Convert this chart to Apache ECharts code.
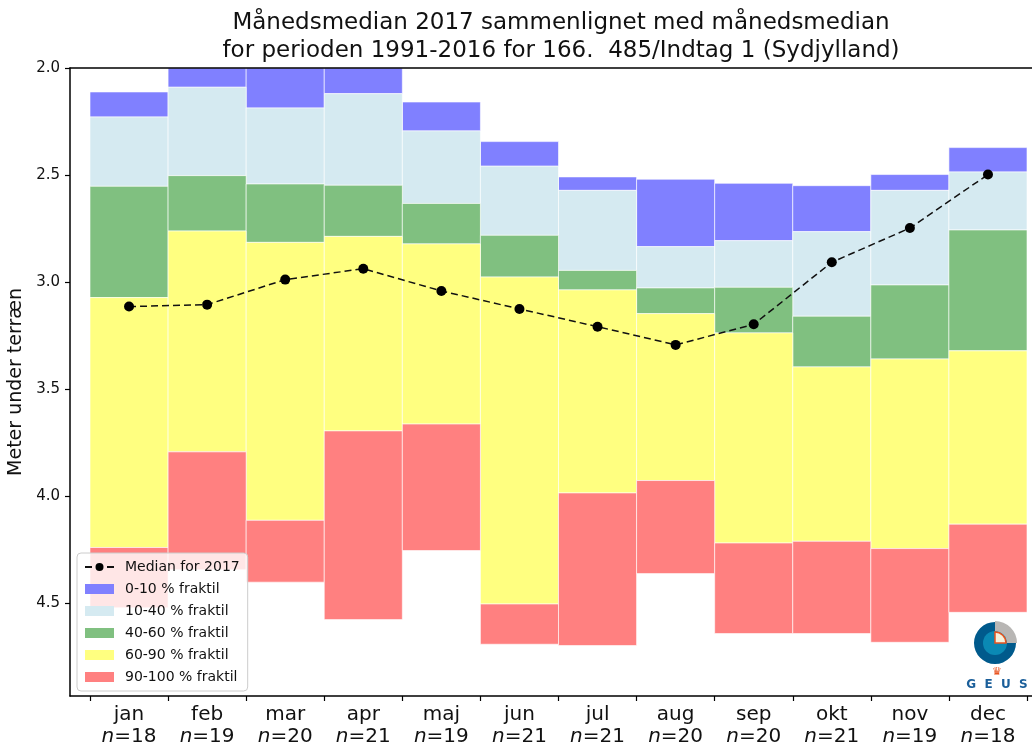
<!DOCTYPE html>
<html>
<head>
<meta charset="utf-8">
<script src="https://cdn.jsdelivr.net/npm/echarts@6/dist/echarts.min.js"></script>
<style>
  html, body { margin: 0; padding: 0; background: #fff; }
  #chart { width: 1032px; height: 749px; }
</style>
</head>
<body>
<div id="chart"></div>
<script>
// months and number of years per month
const months = ['jan', 'feb', 'mar', 'apr', 'maj', 'jun', 'jul', 'aug', 'sep', 'okt', 'nov', 'dec']
const nYears = [18, 19, 20, 21, 19, 21, 21, 20, 20, 21, 19, 18]

// fractiles 1991-2016 (meter under terræn)
const q0 = [2.112, 1.96, 1.95, 1.94, 2.159, 2.344, 2.509, 2.520, 2.539, 2.550, 2.498, 2.372]
const q10 = [2.229, 2.090, 2.187, 2.120, 2.294, 2.459, 2.572, 2.835, 2.807, 2.765, 2.572, 2.486]
const q40 = [2.553, 2.503, 2.542, 2.548, 2.633, 2.782, 2.946, 3.028, 3.025, 3.160, 3.014, 2.757]
const q60 = [3.073, 2.762, 2.815, 2.787, 2.822, 2.977, 3.037, 3.148, 3.238, 3.397, 3.360, 3.322]
const q90 = [4.241, 3.794, 4.114, 3.696, 3.664, 4.505, 3.986, 3.928, 4.220, 4.212, 4.246, 4.132]
const q100 = [4.523, 4.345, 4.403, 4.578, 4.255, 4.693, 4.699, 4.363, 4.643, 4.643, 4.684, 4.544]

// median 2017
const median2017 = [3.115, 3.106, 2.989, 2.938, 3.042, 3.126, 3.209, 3.294, 3.198, 2.908, 2.748, 2.498]

const yTicks = [2.0, 2.5, 3.0, 3.5, 4.0, 4.5]
const yMin = 2.0
const yMax = 4.935

const bands = [
  { name: '0-10 % fraktil', lo: q0, hi: q10, color: '#8080ff' },
  { name: '10-40 % fraktil', lo: q10, hi: q40, color: '#d5eaf1' },
  { name: '40-60 % fraktil', lo: q40, hi: q60, color: '#80c080' },
  { name: '60-90 % fraktil', lo: q60, hi: q90, color: '#ffff80' },
  { name: '90-100 % fraktil', lo: q90, hi: q100, color: '#ff8080' }
]

const font = 'DejaVu Sans'

function renderBand(params, api) {
  const i = api.value(0)
  const p0 = api.coord([i, api.value(1)])
  const p1 = api.coord([i, api.value(2)])
  const w = api.size([1, 0])[0]
  const cs = params.coordSys
  const shape = echarts.graphic.clipRectByRect(
    { x: p0[0] - w / 2, y: Math.min(p0[1], p1[1]), width: w, height: Math.abs(p1[1] - p0[1]) },
    { x: cs.x, y: cs.y, width: cs.width, height: cs.height }
  )
  if (!shape) return
  return {
    type: 'rect',
    shape,
    style: { fill: api.visual('color'), stroke: 'rgba(255,255,255,0.6)', lineWidth: 1 }
  }
}

const chart = echarts.init(document.getElementById('chart'))

const spine = { show: true, lineStyle: { color: '#000', width: 1.5 } }
const frameX = {
  type: 'value', min: 0, max: 1, gridIndex: 0, z: 6,
  axisLine: spine, axisTick: { show: false }, axisLabel: { show: false }, splitLine: { show: false }
}

chart.setOption({
  animation: false,
  title: {
    text: 'Månedsmedian 2017 sammenlignet med månedsmedian\nfor perioden 1991-2016 for 166.  485/Indtag 1 (Sydjylland)',
    left: 556,
    top: 4,
    textAlign: 'center',
    textStyle: { fontFamily: font, fontSize: 23, fontWeight: 'normal', color: '#111', lineHeight: 28 }
  },
  grid: [
    { left: 70, right: -15, top: 68, bottom: 53, outerBoundsMode: 'none' },
    { left: 90, right: 5, top: 68, bottom: 53, outerBoundsMode: 'none' }
  ],
  xAxis: [
    Object.assign({}, frameX, { position: 'bottom' }),
    Object.assign({}, frameX, { position: 'top' }),
    {
      type: 'category',
      gridIndex: 1,
      data: months,
      axisLine: { show: false },
      axisTick: { show: true, length: 5, lineStyle: { color: '#000', width: 1.2 } },
      axisLabel: {
        interval: 0,
        margin: 8,
        formatter: (v, idx) => `{a|${v}}\n{b|n}{c|=${nYears[idx]}}`,
        rich: {
          a: { fontFamily: font, fontSize: 20, lineHeight: 22, color: '#111' },
          b: { fontFamily: font, fontSize: 20, lineHeight: 22, fontStyle: 'italic', color: '#111' },
          c: { fontFamily: font, fontSize: 20, lineHeight: 22, color: '#111' }
        }
      },
      splitLine: { show: false }
    }
  ],
  yAxis: [
    {
      type: 'value',
      gridIndex: 0,
      position: 'left',
      inverse: true,
      min: yMin,
      max: yMax,
      z: 6,
      name: 'Meter under terræn',
      nameLocation: 'middle',
      nameRotate: 90,
      nameGap: 42,
      nameTextStyle: { fontFamily: font, fontSize: 19, color: '#111' },
      axisLine: spine,
      axisTick: { show: true, length: 5, customValues: yTicks, lineStyle: { color: '#000', width: 1.2 } },
      axisLabel: {
        customValues: yTicks,
        margin: 10,
        formatter: v => v.toFixed(1),
        fontFamily: font, fontSize: 15, color: '#111'
      },
      splitLine: { show: false }
    },
    {
      type: 'value',
      gridIndex: 1,
      inverse: true,
      min: yMin,
      max: yMax,
      show: false
    }
  ],
  legend: {
    orient: 'vertical',
    left: 77,
    top: 553,
    padding: [6, 8, 6, 7],
    itemWidth: 29,
    itemHeight: 10,
    itemGap: 6,
    backgroundColor: 'rgba(255,255,255,0.8)',
    borderColor: '#ccc',
    borderWidth: 1,
    borderRadius: 4,
    textStyle: { fontFamily: font, fontSize: 14, color: '#111', lineHeight: 16, padding: [0, 0, 0, 6] },
    data: [{ name: 'Median for 2017' }].concat(bands.map(b => ({ name: b.name, icon: 'rect' })))
  },
  series: bands.map(b => ({
    type: 'custom',
    name: b.name,
    xAxisIndex: 2,
    yAxisIndex: 1,
    itemStyle: { color: b.color },
    renderItem: renderBand,
    encode: { x: 0, y: [1, 2] },
    data: months.map((m, i) => [i, b.lo[i], b.hi[i]]),
    z: 2
  })).concat([{
    type: 'line',
    name: 'Median for 2017',
    xAxisIndex: 2,
    yAxisIndex: 1,
    data: median2017,
    symbol: 'circle',
    symbolSize: 10,
    itemStyle: { color: '#000' },
    lineStyle: { color: '#111', width: 1.5, type: [7, 4] },
    z: 10
  }]),
  graphic: [
    // GEUS logo
    { type: 'sector', shape: { cx: 995, cy: 643, r: 21, r0: 0, startAngle: 0, endAngle: Math.PI * 1.5 }, style: { fill: '#005a8c' }, z: 20 },
    { type: 'sector', shape: { cx: 995, cy: 643, r: 22, r0: 12, startAngle: -Math.PI / 2, endAngle: 0 }, style: { fill: '#b8b6b4' }, z: 20 },
    { type: 'circle', shape: { cx: 995, cy: 643, r: 12 }, style: { fill: '#0a89b4' }, z: 21 },
    { type: 'sector', shape: { cx: 995, cy: 643, r: 11, r0: 0, startAngle: -Math.PI / 2, endAngle: 0 }, style: { fill: '#f4f1dc', stroke: '#e8531f', lineWidth: 1.5 }, z: 22 },
    { type: 'text', x: 997, y: 672, style: { text: '♛', fill: '#e8531f', fontSize: 11, fontFamily: font, align: 'center', verticalAlign: 'middle' }, z: 22 },
    { type: 'text', x: 997, y: 685, style: { text: 'G  E  U  S', fill: '#1b5f9a', fontSize: 12, fontWeight: 'bold', fontFamily: font, align: 'center', verticalAlign: 'middle' }, z: 22 }
  ]
})
</script>
</body>
</html>
